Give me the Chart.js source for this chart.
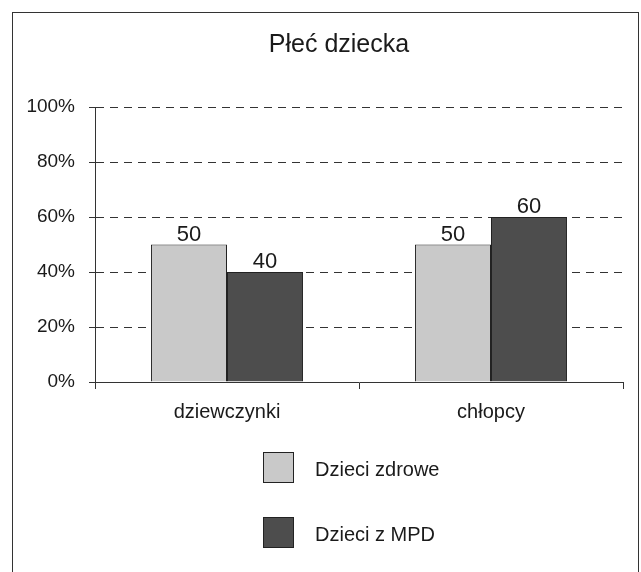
<!DOCTYPE html>
<html><head><meta charset="utf-8">
<script src="https://cdn.jsdelivr.net/npm/chart.js@4/dist/chart.umd.min.js"></script>
<style>
html,body{margin:0;padding:0;background:#fff;overflow:hidden;width:641px;height:572px;}
#frame{position:absolute;left:12px;top:12px;width:627px;height:620px;border:1px solid #333;box-sizing:border-box;}
#wrap{position:absolute;left:0;top:0;width:641px;height:572px;}
</style></head><body>
<div id="frame"></div>
<div id="wrap"><canvas id="c" width="641" height="572"></canvas></div>
<script>
const chartTitle = 'Płeć dziecka';
const categories = ['dziewczynki', 'chłopcy'];
const seriesNames = ['Dzieci zdrowe', 'Dzieci z MPD'];
const zdrowe = [50, 50];
const mpd = [40, 60];
const yTicks = [0, 20, 40, 60, 80, 100];
const seriesColors = ['#c9c9c9', '#4d4d4d'];

const FAMILY = '"Liberation Sans", Arial, Helvetica, sans-serif';
const TEXT = '#1a1a1a';

const overlay = {
  id: 'overlay',
  afterDatasetsDraw(chart) {
    const ctx = chart.ctx;
    ctx.save();
    ctx.fillStyle = TEXT;
    // value labels
    ctx.font = '22px ' + FAMILY;
    ctx.textAlign = 'center';
    ctx.textBaseline = 'alphabetic';
    chart.data.datasets.forEach((ds, i) => {
      chart.getDatasetMeta(i).data.forEach((bar, j) => {
        ctx.fillText(String(ds.data[j]), bar.x, bar.y - 4);
      });
    });
    // title
    ctx.font = '25px ' + FAMILY;
    ctx.fillText(chartTitle, 339, 52);
    // legend (vertical)
    const ys = [452, 517];
    chart.data.datasets.forEach((ds, i) => {
      const y = ys[i];
      ctx.fillStyle = ds.backgroundColor;
      ctx.fillRect(263, y, 31, 31);
      ctx.strokeStyle = '#222';
      ctx.lineWidth = 1;
      ctx.strokeRect(263.5, y + 0.5, 30, 30);
      ctx.fillStyle = TEXT;
      ctx.font = '20px ' + FAMILY;
      ctx.textAlign = 'left';
      ctx.fillText(ds.label, 315, y + 24);
    });
    ctx.restore();
  }
};

new Chart(document.getElementById('c'), {
  type: 'bar',
  data: {
    labels: categories,
    datasets: [
      { label: seriesNames[0], data: zdrowe, backgroundColor: seriesColors[0], borderColor: '#222', borderWidth: 1 },
      { label: seriesNames[1], data: mpd, backgroundColor: seriesColors[1], borderColor: '#222', borderWidth: 1 }
    ]
  },
  options: {
    responsive: false,
    animation: false,
    events: [],
    categoryPercentage: 0.576,
    barPercentage: 1,
    layout: { padding: { top: 107, right: 18, bottom: 0, left: 0 } },
    plugins: { legend: { display: false }, title: { display: false }, tooltip: { enabled: false } },
    scales: {
      x: {
        grid: { display: true, drawOnChartArea: false, drawTicks: true, tickLength: 7, color: '#333', offset: true },
        border: { display: true, color: '#333', width: 1 },
        ticks: { color: TEXT, font: { size: 20, family: FAMILY }, padding: 11 },
        afterFit(s) { s.height = 190; }
      },
      y: {
        min: 0, max: 100,
        afterBuildTicks(s) { s.ticks = yTicks.map(v => ({ value: v })); },
        grid: { color: '#333', tickLength: 6, drawTicks: true },
        border: { display: true, color: '#333', width: 1, dash: [8, 6] },
        ticks: { color: TEXT, font: { size: 19, family: FAMILY }, padding: 14, callback: v => v + '%' },
        afterFit(s) { s.width = 95; }
      }
    }
  },
  plugins: [overlay]
});
</script>
</body></html>
